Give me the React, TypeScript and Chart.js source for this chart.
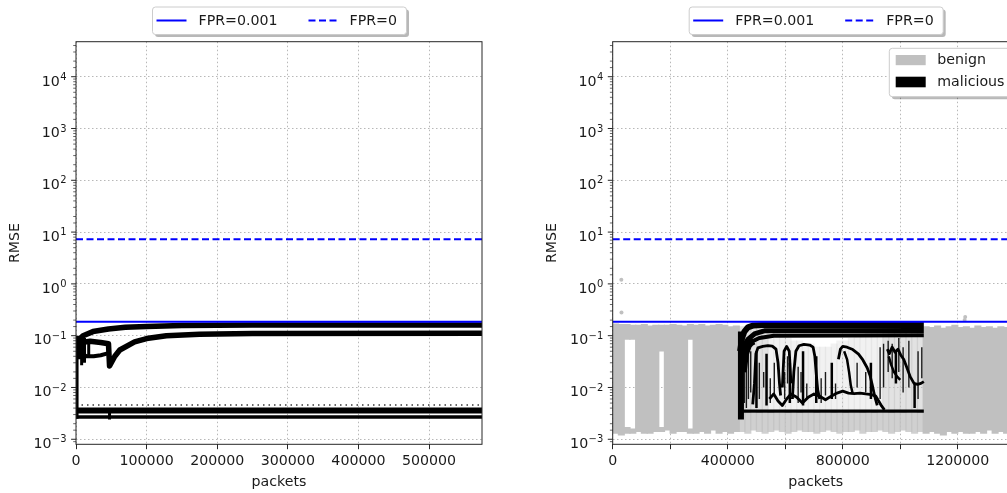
import React, { useEffect, useRef } from 'react';
import { Chart, registerables } from 'chart.js';

Chart.register(...registerables);

// ---------------- data ----------------
const leftXMax = 575000;
const rightXMax = 1412000;
const rmseMin = 0.0008;
const rmseMax = 47400;
const leftXTicks = [0, 100000, 200000, 300000, 400000, 500000];
const rightXTicks = [0, 200000, 400000, 600000, 800000, 1000000, 1200000, 1400000];
const rightXLabelled = [0, 400000, 800000, 1200000];
const yDecades = [-3, -2, -1, 0, 1, 2, 3, 4];

const thresholdLabels = ['FPR=0.001', 'FPR=0'];
const thresholdValues = [0.186, 7.3];
const classLabels = ['benign', 'malicious'];

// left panel (malicious traffic RMSE traces)
const leftUpperX = [3000, 10000, 24000, 46000, 70000, 100000, 150000, 250000, 575000];
const leftUpperY = [0.08, 0.1, 0.12, 0.135, 0.145, 0.15, 0.157, 0.16, 0.16];
const leftMidX = [4000, 10000, 20000, 35000, 46000, 47500, 55000, 62000, 83000, 100000, 128000, 175000, 250000, 575000];
const leftMidY = [0.065, 0.075, 0.078, 0.074, 0.07, 0.026, 0.04, 0.053, 0.076, 0.088, 0.1, 0.107, 0.11, 0.111];
const leftLoopX = [8000, 15000, 25000, 35000, 46000];
const leftLoopY = [0.045, 0.04, 0.04, 0.042, 0.046];
const leftSpikeX = [1500, 4500, 8000, 12000, 18000, 47500];
const leftSpikeLow = [0.0025, 0.035, 0.027, 0.03, 0.037, 0.0024];
const leftSpikeHigh = [0.1, 0.1, 0.095, 0.09, 0.075, 0.004];
const leftBandX = [0, 575000];
const leftBandHighY = [0.0036, 0.0036];
const leftBandLowY = [0.0027, 0.0027];
const leftDotsY = [0.0046, 0.0046];

// right panel: benign (binned vertical extent)
const benignX = [
  10000, 30000, 50000, 70000, 90000, 110000, 130000, 150000, 170000, 190000,
  210000, 230000, 250000, 270000, 290000, 310000, 330000, 350000, 370000, 390000,
  410000, 430000, 450000, 470000, 490000, 510000, 530000, 550000, 570000, 590000,
  610000, 630000, 650000, 670000, 690000, 710000, 730000, 750000, 770000, 790000,
  810000, 830000, 850000, 870000, 890000, 910000, 930000, 950000, 970000, 990000,
  1010000, 1030000, 1050000, 1070000, 1090000, 1110000, 1130000, 1150000, 1170000, 1190000,
  1210000, 1230000, 1250000, 1270000, 1290000, 1310000, 1330000, 1350000, 1370000, 1390000,
  1410000,
];
const benignLow = [
  0.0013, 0.0012, null, null, 0.0014, 0.0013, 0.0013, 0.0014, null, 0.0015,
  0.0013, 0.0014, 0.0014, null, 0.0013, 0.0014, 0.0013, 0.0015, 0.0013, 0.0014,
  0.0013, 0.0014, null, null, null, null, null, null, null, null,
  null, null, null, null, null, null, null, null, null, null,
  null, null, null, null, null, null, null, null, null, null,
  null, null, null, null, 0.0013, 0.0014, 0.0013, 0.0012, 0.0014, 0.0013,
  0.0014, 0.0013, 0.0013, 0.0014, 0.0013, 0.0015, 0.0013, 0.0014, 0.0013, 0.0014,
  0.0013,
];
const benignHigh = [
  0.17, 0.165, null, null, 0.16, 0.165, 0.155, 0.16, null, 0.16,
  0.165, 0.16, 0.155, null, 0.16, 0.165, 0.155, 0.16, 0.165, 0.16,
  0.15, 0.155, null, null, null, null, null, null, null, null,
  null, null, null, null, null, null, null, null, null, null,
  null, null, null, null, null, null, null, null, null, null,
  null, null, null, null, 0.15, 0.145, 0.155, 0.14, 0.15, 0.16,
  0.145, 0.15, 0.14, 0.155, 0.145, 0.15, 0.14, 0.15, 0.145, 0.15,
  0.14,
];
const gapX = [50000, 70000, 170000, 270000];
const gapUpperLow = [0.085, 0.085, 0.05, 0.085];
const gapUpperHigh = [0.165, 0.16, 0.16, 0.165];
const gapLowerLow = [0.0013, 0.0013, 0.0014, 0.0013];
const gapLowerHigh = [0.0017, 0.0016, 0.0017, 0.0016];
const underX = [
  450000, 470000, 490000, 510000, 530000, 550000, 570000, 590000, 610000, 630000,
  650000, 670000, 690000, 710000, 730000, 750000, 770000, 790000, 810000, 830000,
  850000, 870000, 890000, 910000, 930000, 950000, 970000, 990000, 1010000, 1030000,
  1050000, 1070000,
];
const underLow = [
  0.0014, 0.0013, 0.0015, 0.0014, 0.0013, 0.0014, 0.0015, 0.0014, 0.0013, 0.0014,
  0.0015, 0.0014, 0.0014, 0.0013, 0.0014, 0.0015, 0.0014, 0.0013, 0.0014, 0.0014,
  0.0015, 0.0013, 0.0014, 0.0014, 0.0015, 0.0014, 0.0013, 0.0014, 0.0015, 0.0014,
  0.0013, 0.0014,
];
const underHigh = [
  0.0034, 0.0033, 0.0032, 0.0033, 0.0032, 0.0033, 0.0032, 0.0032, 0.0033, 0.0032,
  0.0033, 0.0032, 0.0032, 0.0033, 0.0032, 0.0032, 0.0033, 0.0032, 0.0033, 0.0032,
  0.0032, 0.0033, 0.0032, 0.0033, 0.0032, 0.0032, 0.0033, 0.0032, 0.0033, 0.0032,
  0.0032, 0.0033,
];
const sparseLow = [
  0.0037, 0.0037, 0.0037, 0.0037, 0.0037, 0.0037, 0.0037, 0.0037, 0.0037, 0.0037,
  0.0037, 0.0037, 0.0037, 0.0037, 0.0037, 0.0037, 0.0037, 0.0037, 0.0037, 0.0037,
  0.0037, 0.0037, 0.0037, 0.0037, 0.0037, 0.0037, 0.0037, 0.0037, 0.0037, 0.0037,
  0.0037, 0.0037,
];
const sparseHigh = [
  0.15, 0.15, 0.14, 0.14, 0.13, 0.12, 0.12, 0.1, 0.09, 0.08,
  0.08, 0.07, 0.07, 0.06, 0.06, 0.06, 0.07, 0.08, 0.08, 0.09,
  0.1, 0.1, 0.12, 0.13, 0.14, 0.15, 0.15, 0.14, 0.15, 0.14,
  0.15, 0.15,
];
const denseTintX = [450000, 470000, 490000, 510000, 530000, 950000, 970000, 990000, 1010000, 1030000, 1050000, 1070000];
const denseTintLow = [0.0037, 0.0037, 0.0037, 0.0037, 0.0037, 0.0037, 0.0037, 0.0037, 0.0037, 0.0037, 0.0037, 0.0037];
const denseTintHigh = [0.15, 0.15, 0.14, 0.14, 0.13, 0.14, 0.15, 0.15, 0.14, 0.15, 0.14, 0.15];
const benignOutlierX = [30000, 30500, 1224000, 1226000];
const benignOutlierY = [1.2, 0.28, 0.2, 0.23];

// right panel: malicious traces
const malTopX = [443000, 450000, 458000, 470000, 490000, 520000, 1082000];
const malTopY = [0.05, 0.09, 0.12, 0.145, 0.158, 0.16, 0.16];
const malTop2X = [455000, 470000, 495000, 530000, 1082000];
const malTop2Y = [0.06, 0.085, 0.11, 0.125, 0.126];
const malTenthX = [450000, 462000, 480000, 510000, 560000, 1082000];
const malTenthY = [0.03, 0.05, 0.075, 0.09, 0.1, 0.102];
const malFloorX = [445000, 1082000];
const malFloorY = [0.0035, 0.0035];
const malEdgeX = [446000, 446000];
const malEdgeY = [0.0024, 0.12];
const malBlobX = [452000, 460000, 470000, 480000, 490000];
const malBlobY = [0.02, 0.045, 0.065, 0.075, 0.08];
const malC1X = [487000, 493000, 498000, 505000, 522000, 540000, 555000, 568000, 575000, 580000, 584000];
const malC1Y = [0.0047, 0.012, 0.045, 0.058, 0.062, 0.064, 0.063, 0.055, 0.03, 0.012, 0.007];
const malC1bX = [590000, 596000, 605000, 614000, 620000];
const malC1bY = [0.01, 0.05, 0.062, 0.05, 0.012];
const malC2X = [625000, 630000, 637000, 648000, 665000, 685000, 697000, 703000, 708000, 713000, 720000];
const malC2Y = [0.006, 0.02, 0.05, 0.064, 0.068, 0.066, 0.06, 0.04, 0.018, 0.009, 0.006];
const malC3X = [785000, 792000, 800000, 815000, 835000, 855000, 870000, 885000, 895000, 903000, 912000, 920000];
const malC3Y = [0.035, 0.055, 0.062, 0.06, 0.054, 0.044, 0.034, 0.024, 0.017, 0.011, 0.0065, 0.0045];
const malC3bX = [805000, 815000, 822000, 828000, 835000];
const malC3bY = [0.05, 0.035, 0.02, 0.011, 0.0075];
const malC4X = [545000, 560000, 575000, 590000, 605000, 620000, 640000, 660000, 680000, 700000, 720000, 740000, 760000, 780000, 800000, 820000, 840000, 860000, 880000, 900000, 915000, 925000, 935000, 945000];
const malC4Y = [0.006, 0.0075, 0.0055, 0.0045, 0.006, 0.0075, 0.0065, 0.005, 0.0065, 0.0075, 0.0068, 0.0058, 0.0068, 0.0078, 0.0085, 0.0078, 0.0076, 0.0078, 0.0075, 0.0073, 0.0068, 0.0055, 0.0044, 0.0037];
const malC5X = [955000, 962000, 972000, 982000, 992000, 1002000, 1012000, 1022000, 1035000, 1048000, 1060000, 1072000, 1082000];
const malC5Y = [0.055, 0.045, 0.06, 0.048, 0.055, 0.042, 0.035, 0.025, 0.016, 0.012, 0.0115, 0.012, 0.013];
const malC5bX = [960000, 968000, 978000, 990000, 1000000];
const malC5bY = [0.04, 0.028, 0.02, 0.016, 0.014];
const malSpikeX = [500000, 535000, 616000, 662000, 708000, 762000, 898000, 985000, 1050000];
const malSpikeLow = [0.004, 0.0045, 0.005, 0.0045, 0.005, 0.006, 0.006, 0.012, 0.004];
const malSpikeHigh = [0.05, 0.045, 0.03, 0.05, 0.04, 0.03, 0.03, 0.05, 0.012];
const malTextureX = [452000, 458000, 465000, 472000, 480000, 510000, 525000, 548000, 562000, 598000, 608000, 645000, 655000, 675000, 725000, 740000, 775000, 850000, 880000, 930000, 942000, 958000, 972000, 995000, 1010000, 1030000, 1062000, 1075000];
const malTextureLow = [0.004, 0.005, 0.004, 0.006, 0.008, 0.006, 0.01, 0.005, 0.007, 0.006, 0.012, 0.005, 0.008, 0.006, 0.005, 0.007, 0.006, 0.01, 0.008, 0.006, 0.01, 0.02, 0.015, 0.02, 0.008, 0.01, 0.006, 0.015];
const malTextureHigh = [0.09, 0.08, 0.07, 0.06, 0.05, 0.03, 0.02, 0.015, 0.03, 0.02, 0.04, 0.025, 0.02, 0.012, 0.015, 0.02, 0.012, 0.03, 0.02, 0.06, 0.07, 0.08, 0.07, 0.09, 0.06, 0.08, 0.05, 0.06];

// ---------------- styling ----------------
const FS = 14.2;
const FONT = '"DejaVu Sans", sans-serif';
const TEXT = '#1a1a1a';
const AXIS = '#262626';
const GRID = 'rgba(176,176,176,0.9)';
const BLUE = '#0000ff';
const SILVER = '#c0c0c0';
const MAJOR_TICK = 4.9;
const MINOR_TICK = 2.8;

Chart.defaults.font.family = FONT;
Chart.defaults.font.size = FS;
Chart.defaults.color = TEXT;

const pts = (xs: number[], ys: (number | null)[]) => xs.map((x, i) => ({ x, y: ys[i] }));
const ranges = (xs: number[], lo: (number | null)[], hi: (number | null)[]) =>
  xs
    .map((x, i) => (lo[i] == null || hi[i] == null ? null : { x, y: [lo[i], hi[i]] }))
    .filter((d) => d !== null);
const spikes = (xs: number[], lo: number[], hi: number[]) =>
  xs.flatMap((x, i) => [
    { x, y: lo[i] },
    { x, y: hi[i] },
    { x, y: null },
  ]);

const line = (label: string, data: any[], color: string, width: number, extra: any = {}) => ({
  type: 'line',
  label,
  data,
  borderColor: color,
  backgroundColor: color,
  borderWidth: width,
  pointRadius: 0,
  pointHoverRadius: 0,
  fill: false,
  tension: 0,
  spanGaps: false,
  clip: 0,
  borderJoinStyle: 'round',
  ...extra,
});
const bars = (label: string, data: any[], color: string) => ({
  type: 'bar',
  label,
  data,
  backgroundColor: color,
  borderWidth: 0,
  grouped: false,
  barThickness: 6.4,
  clip: 0,
});

const thresholdLines = (xMax: number) => [
  line(thresholdLabels[0], pts([0, xMax], [thresholdValues[0], thresholdValues[0]]), BLUE, 2),
  line(thresholdLabels[1], pts([0, xMax], [thresholdValues[1], thresholdValues[1]]), BLUE, 2, { borderDash: [7, 3.5] }),
];

const isPow10 = (v: number) => {
  const l = Math.log10(v);
  return Math.abs(l - Math.round(l)) < 1e-6;
};

function roundRect(ctx: CanvasRenderingContext2D, x: number, y: number, w: number, h: number, r: number) {
  ctx.beginPath();
  ctx.moveTo(x + r, y);
  ctx.arcTo(x + w, y, x + w, y + h, r);
  ctx.arcTo(x + w, y + h, x, y + h, r);
  ctx.arcTo(x, y + h, x, y, r);
  ctx.arcTo(x, y, x + w, y, r);
  ctx.closePath();
}
function legendFrame(ctx: CanvasRenderingContext2D, x: number, y: number, w: number, h: number) {
  ctx.save();
  roundRect(ctx, x + 2.5, y + 2.5, w, h, 3);
  ctx.fillStyle = 'rgba(0,0,0,0.28)';
  ctx.fill();
  roundRect(ctx, x, y, w, h, 3);
  ctx.fillStyle = '#ffffff';
  ctx.fill();
  ctx.strokeStyle = '#cccccc';
  ctx.lineWidth = 1;
  ctx.stroke();
  ctx.restore();
}

// spines + log-axis ticks with mathtext-like labels
const framePlugin = {
  id: 'frame',
  afterDatasetsDraw(chart: any) {
    const { ctx, chartArea: a } = chart;
    const ys = chart.scales.y;
    ctx.save();
    ctx.strokeStyle = AXIS;
    ctx.lineWidth = 1;
    ctx.strokeRect(a.left, a.top, a.right - a.left, a.bottom - a.top);
    for (const t of ys.ticks) {
      const v = t.value;
      if (v < rmseMin * 1.0001 || v > rmseMax * 0.9999) continue;
      const py = ys.getPixelForValue(v);
      const major = isPow10(v);
      ctx.lineWidth = major ? 1 : 0.7;
      ctx.beginPath();
      ctx.moveTo(a.left - (major ? MAJOR_TICK : MINOR_TICK), py);
      ctx.lineTo(a.left, py);
      ctx.stroke();
    }
    ctx.fillStyle = TEXT;
    ctx.textAlign = 'right';
    ctx.textBaseline = 'alphabetic';
    const right = a.left - MAJOR_TICK - 4.6;
    for (const e of yDecades) {
      const py = ys.getPixelForValue(Math.pow(10, e));
      const sup = (e < 0 ? '\u2212' : '') + String(Math.abs(e));
      ctx.font = `${FS * 0.7}px ${FONT}`;
      const sw = ctx.measureText(sup).width;
      ctx.fillText(sup, right, py + 3.2);
      ctx.font = `${FS}px ${FONT}`;
      ctx.fillText('10', right - sw - 0.4, py + 8.8);
    }
    ctx.restore();
  },
};

const fprLegendPlugin = {
  id: 'fprLegend',
  afterDraw(chart: any) {
    const { ctx, chartArea: a } = chart;
    const cx = (a.left + a.right) / 2;
    const x0 = cx - 126.5;
    const y0 = 7;
    legendFrame(ctx, x0, y0, 254, 27.5);
    const ly = y0 + 13.5;
    ctx.save();
    ctx.strokeStyle = BLUE;
    ctx.lineWidth = 2;
    ctx.beginPath();
    ctx.moveTo(x0 + 4, ly);
    ctx.lineTo(x0 + 34, ly);
    ctx.stroke();
    ctx.setLineDash([7, 3.5]);
    ctx.beginPath();
    ctx.moveTo(x0 + 156, ly);
    ctx.lineTo(x0 + 186, ly);
    ctx.stroke();
    ctx.setLineDash([]);
    ctx.fillStyle = TEXT;
    ctx.font = `${FS}px ${FONT}`;
    ctx.textBaseline = 'middle';
    ctx.textAlign = 'left';
    ctx.fillText(thresholdLabels[0], x0 + 46, ly + 0.5);
    ctx.fillText(thresholdLabels[1], x0 + 197, ly + 0.5);
    ctx.restore();
  },
};

const classLegendPlugin = {
  id: 'classLegend',
  afterDraw(chart: any) {
    const { ctx, chartArea: a } = chart;
    const x0 = a.right - 129.4;
    const y0 = a.top + 6.6;
    legendFrame(ctx, x0, y0, 124, 48.4);
    ctx.save();
    ctx.fillStyle = SILVER;
    ctx.fillRect(x0 + 6.4, y0 + 6.7, 30, 10.2);
    ctx.fillStyle = '#000000';
    ctx.fillRect(x0 + 6.4, y0 + 28.4, 30, 10.6);
    ctx.fillStyle = TEXT;
    ctx.font = `${FS}px ${FONT}`;
    ctx.textBaseline = 'middle';
    ctx.textAlign = 'left';
    ctx.fillText(classLabels[0], x0 + 48, y0 + 12);
    ctx.fillText(classLabels[1], x0 + 48, y0 + 34);
    ctx.restore();
  },
};

function makeConfig(
  datasets: any[],
  p: { xMax: number; xTicks: number[]; xLabels: number[]; yWidth: number; rightPad: number; titlePad: number; plugins: any[] }
) {
  return {
    type: 'bar',
    data: { datasets },
    options: {
      animation: false,
      responsive: false,
      devicePixelRatio: 1,
      events: [],
      layout: { padding: { left: 0, right: p.rightPad, top: 41.7, bottom: 0 } },
      plugins: { legend: { display: false }, tooltip: { enabled: false } },
      scales: {
        x: {
          type: 'linear',
          position: 'bottom',
          min: 0,
          max: p.xMax,
          offset: false,
          afterFit: (s: any) => {
            s.height = 48.7;
          },
          afterBuildTicks: (s: any) => {
            s.ticks = p.xTicks.map((v) => ({ value: v }));
          },
          border: { display: false, dash: [1.5, 2.5] },
          grid: { offset: false, color: GRID, lineWidth: 1, drawTicks: true, tickLength: MAJOR_TICK, tickColor: AXIS, tickWidth: 1, tickBorderDash: [] },
          ticks: {
            autoSkip: false,
            maxRotation: 0,
            minRotation: 0,
            padding: 4,
            color: TEXT,
            font: { size: FS },
            callback: (v: any) => (p.xLabels.indexOf(Number(v)) >= 0 ? String(v) : ''),
          },
          title: { display: true, text: 'packets', color: TEXT, font: { size: FS }, padding: { top: 0, bottom: 2.5 } },
        },
        y: {
          type: 'logarithmic',
          position: 'left',
          min: rmseMin,
          max: rmseMax,
          afterFit: (s: any) => {
            s.width = p.yWidth;
          },
          border: { display: false, dash: [1.5, 2.5] },
          grid: {
            color: (c: any) => (c.tick && isPow10(c.tick.value) ? GRID : 'rgba(0,0,0,0)'),
            lineWidth: 1,
            drawTicks: false,
          },
          ticks: {
            autoSkip: false,
            padding: 0,
            callback: () => '',
          },
          title: { display: true, text: 'RMSE', color: TEXT, font: { size: FS }, padding: { top: p.titlePad, bottom: 0 } },
        },
      },
    },
    plugins: [framePlugin, ...p.plugins],
  };
}

const makeLeft = () =>
  makeConfig(
    [
      ...thresholdLines(leftXMax),
      line('malicious', pts(leftUpperX, leftUpperY), '#000', 5.5),
      line('malicious', pts(leftMidX, leftMidY), '#000', 5.5),
      line('malicious', pts(leftLoopX, leftLoopY), '#000', 4),
      line('malicious', spikes(leftSpikeX, leftSpikeLow, leftSpikeHigh), '#000', 3),
      line('malicious', pts(leftBandX, leftBandHighY), '#000', 6),
      line('malicious', pts(leftBandX, leftBandLowY), '#000', 3.5),
      line('malicious', pts(leftBandX, leftDotsY), '#6a6a6a', 2, { borderDash: [1.5, 4] }),
    ],
    { xMax: leftXMax, xTicks: leftXTicks, xLabels: leftXTicks, yWidth: 76, rightPad: 18, titlePad: 7.3, plugins: [fprLegendPlugin] }
  );

const makeRight = () =>
  makeConfig(
    [
      ...thresholdLines(rightXMax),
      line('malicious', pts(malTopX, malTopY), '#000', 6),
      line('malicious', pts(malTop2X, malTop2Y), '#000', 5),
      line('malicious', pts(malTenthX, malTenthY), '#000', 4),
      line('malicious', pts(malFloorX, malFloorY), '#000', 3.3),
      line('malicious', pts(malEdgeX, malEdgeY), '#000', 6),
      line('malicious', pts(malBlobX, malBlobY), '#000', 8),
      line('malicious', pts(malC1X, malC1Y), '#000', 2.8),
      line('malicious', pts(malC1bX, malC1bY), '#000', 2.8),
      line('malicious', pts(malC2X, malC2Y), '#000', 2.8),
      line('malicious', pts(malC3X, malC3Y), '#000', 2.8),
      line('malicious', pts(malC3bX, malC3bY), '#000', 2.5),
      line('malicious', pts(malC4X, malC4Y), '#000', 2.8),
      line('malicious', pts(malC5X, malC5Y), '#000', 2.8),
      line('malicious', pts(malC5bX, malC5bY), '#000', 2.5),
      line('malicious', spikes(malSpikeX, malSpikeLow, malSpikeHigh), '#000', 2.5),
      line('malicious', spikes(malTextureX, malTextureLow, malTextureHigh), '#1a1a1a', 1.4),
      line('benign', pts(benignOutlierX, benignOutlierY), SILVER, 0, { showLine: false, pointRadius: 2, pointBorderWidth: 0, pointBackgroundColor: SILVER }),
      bars('benign', ranges(denseTintX, denseTintLow, denseTintHigh), 'rgba(192,192,192,0.3)'),
      bars('benign', ranges(underX, sparseLow, sparseHigh), 'rgba(192,192,192,0.22)'),
      bars('benign', ranges(underX, underLow, underHigh), 'rgba(192,192,192,0.75)'),
      bars('benign', ranges(gapX, gapUpperLow, gapUpperHigh), SILVER),
      bars('benign', ranges(gapX, gapLowerLow, gapLowerHigh), SILVER),
      bars('benign', ranges(benignX, benignLow, benignHigh), SILVER),
    ],
    { xMax: rightXMax, xTicks: rightXTicks, xLabels: rightXLabelled, yWidth: 85.7, rightPad: 8.3, titlePad: 16.5, plugins: [fprLegendPlugin, classLegendPlugin] }
  );

function PlotCanvas({ left, width, make }: { left: number; width: number; make: () => any }) {
  const ref = useRef<HTMLCanvasElement | null>(null);
  useEffect(() => {
    if (!ref.current) return;
    const chart = new Chart(ref.current, make());
    return () => chart.destroy();
  }, [make]);
  return (
    <canvas
      ref={ref}
      width={width}
      height={493}
      style={{ position: 'absolute', left, top: 0, width, height: 493, display: 'block' }}
    />
  );
}

export default function App() {
  return (
    <div style={{ position: 'absolute', left: 0, top: 0, width: 1007, height: 493, overflow: 'hidden', background: '#ffffff' }}>
      <PlotCanvas left={0} width={500} make={makeLeft} />
      <PlotCanvas left={527} width={500} make={makeRight} />
    </div>
  );
}
